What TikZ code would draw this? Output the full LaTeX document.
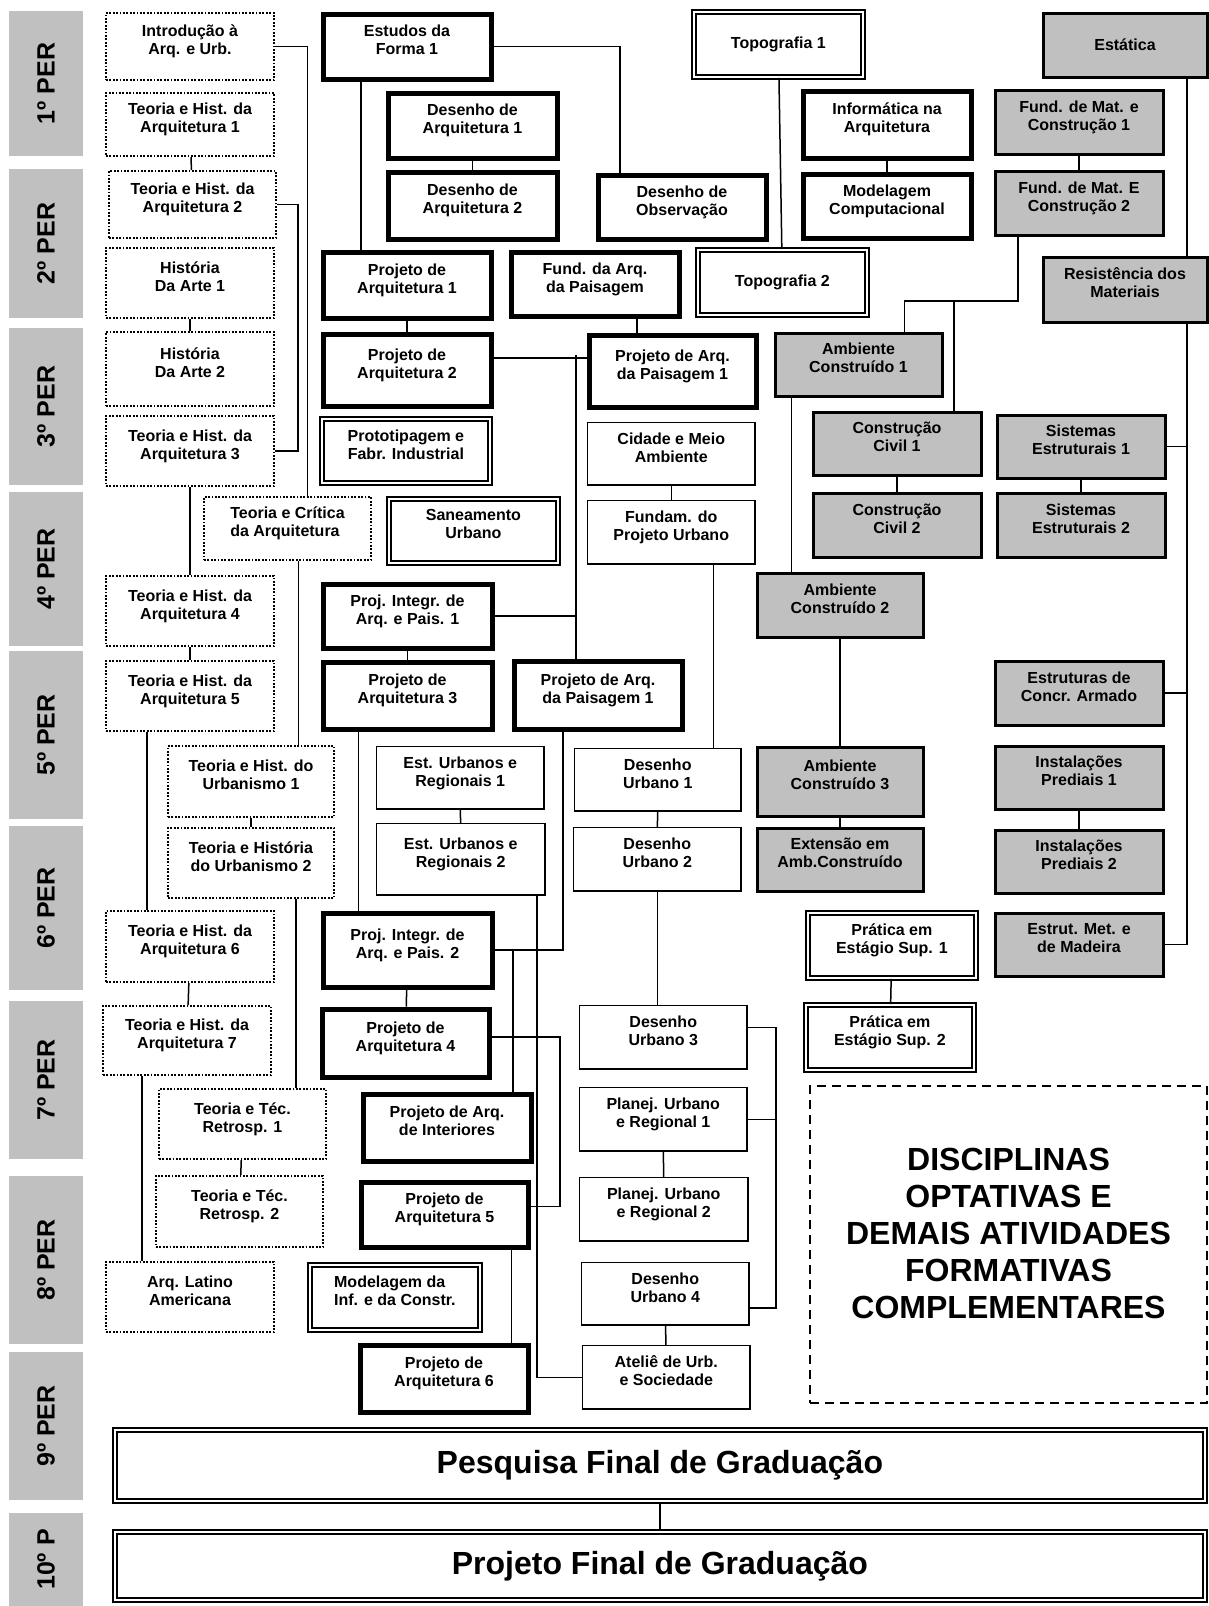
\documentclass[tikz,border=0pt]{standalone}
\usepackage{fontspec}
\setmainfont{Liberation Sans}
\definecolor{pergray}{RGB}{192,192,192}

\begin{document}
\begin{tikzpicture}[x=1pt, y=-1pt,
		box/.style={rectangle, anchor=north west, align=center, inner sep=2pt, text depth=13pt, font=\bfseries\fontsize{16}{18}\selectfont},
		oneline/.style={text depth=},
		dotbox/.style={box, draw, line width=2pt, dash pattern=on 1.8pt off 1.6pt},
		thickbox/.style={box, draw, line width=5pt},
		thinbox/.style={box, draw, line width=1.5pt},
		graybox/.style={box, draw, fill=pergray, line width=3pt},
		dblbox/.style={box, draw, double, line width=1.8pt, double distance=2.4pt},
		optbox/.style={box, draw, line width=2pt, dash pattern=on 9pt off 6pt, text depth=22pt, font=\bfseries\fontsize{32}{37}\selectfont},
		finalbox/.style={dblbox, oneline, font=\bfseries\fontsize{32}{36}\selectfont},
		period/.style={rectangle, fill=pergray, rotate=90, minimum height=74pt, font=\bfseries\fontsize{25}{30}\selectfont},
		link/.style={line width=1.5pt}]
		\useasboundingbox (0,0) rectangle (1208,1606);
		% periodos
		\node[period, minimum width=145pt] (per1) at (46, 83.5) {1º PER};
		\node[period, minimum width=149pt] (per2) at (46, 243.5) {2º PER};
		\node[period, minimum width=157pt] (per3) at (46, 406.5) {3º PER};
		\node[period, minimum width=154pt] (per4) at (46, 569) {4º PER};
		\node[period, minimum width=168pt] (per5) at (46, 735) {5º PER};
		\node[period, minimum width=164pt] (per6) at (46, 908) {6º PER};
		\node[period, minimum width=158pt] (per7) at (46, 1080) {7º PER};
		\node[period, minimum width=168pt] (per8) at (46, 1260) {8º PER};
		\node[period, minimum width=148pt] (per9) at (46, 1426) {9º PER};
		\node[period, minimum width=93pt] (per10) at (46, 1559.5) {10º P};
		% teoria e historia
		\node[dotbox, minimum width=168pt, minimum height=67pt] (p1_intro) at (105, 12) {Introdução à\\Arq. e Urb.};
		\node[dotbox, minimum width=168pt, minimum height=63pt] (p1_th1) at (105, 92) {Teoria e Hist. da\\Arquitetura 1};
		\node[dotbox, minimum width=167pt, minimum height=67pt] (p2_th2) at (108, 170) {Teoria e Hist. da\\Arquitetura 2};
		\node[dotbox, minimum width=168pt, minimum height=70pt] (p2_ha1) at (105, 247) {História\\Da Arte 1};
		\node[dotbox, minimum width=168pt, minimum height=74pt] (p3_ha2) at (105, 331) {História\\Da Arte 2};
		\node[dotbox, minimum width=168pt, minimum height=70pt] (p3_th3) at (105, 415) {Teoria e Hist. da\\Arquitetura 3};
		\node[dotbox, align=left, minimum width=167pt, minimum height=63pt] (p4_tc) at (203, 496) {Teoria e Crítica\\da Arquitetura};
		\node[dotbox, minimum width=168pt, minimum height=70pt] (p4_th4) at (105, 575) {Teoria e Hist. da\\Arquitetura 4};
		\node[dotbox, minimum width=168pt, minimum height=70pt] (p5_th5) at (105, 660) {Teoria e Hist. da\\Arquitetura 5};
		\node[dotbox, minimum width=166pt, minimum height=71pt] (p5_thu1) at (167, 745) {Teoria e Hist. do\\Urbanismo 1};
		\node[dotbox, minimum width=166pt, minimum height=70pt] (p6_thu2) at (167, 827) {Teoria e História\\do Urbanismo 2};
		\node[dotbox, minimum width=168pt, minimum height=71pt] (p6_th6) at (105, 910) {Teoria e Hist. da\\Arquitetura 6};
		\node[dotbox, minimum width=168pt, minimum height=69pt] (p7_th7) at (102, 1005) {Teoria e Hist. da\\Arquitetura 7};
		\node[dotbox, minimum width=167pt, minimum height=70pt] (p7_ttr1) at (158, 1088) {Teoria e Téc.\\Retrosp. 1};
		\node[dotbox, minimum width=167pt, minimum height=71pt] (p8_ttr2) at (155, 1175) {Teoria e Téc.\\Retrosp. 2};
		\node[dotbox, minimum width=168pt, minimum height=70pt] (p8_alat) at (105, 1261) {Arq. Latino\\Americana};
		% projeto
		\node[thickbox, minimum width=168pt, minimum height=65pt] (p1_ef1) at (320.5, 11.5) {Estudos da\\Forma 1};
		\node[thickbox, minimum width=169pt, minimum height=65pt] (p1_da1) at (385.5, 90.5) {Desenho de\\Arquitetura 1};
		\node[thickbox, minimum width=169pt, minimum height=67pt] (p2_da2) at (385.5, 169.5) {Desenho de\\Arquitetura 2};
		\node[thickbox, minimum width=168pt, minimum height=64pt] (p2_dob) at (595.5, 172.5) {Desenho de\\Observação};
		\node[thickbox, minimum width=168pt, minimum height=66pt] (p2_pa1) at (320.5, 249.5) {Projeto de\\Arquitetura 1};
		\node[thickbox, minimum width=168pt, minimum height=64pt] (p2_fap) at (508.5, 249.5) {Fund. da Arq.\\da Paisagem};
		\node[thickbox, minimum width=168pt, minimum height=72pt] (p3_pa2) at (320.5, 331.5) {Projeto de\\Arquitetura 2};
		\node[thickbox, minimum width=167pt, minimum height=72pt] (p3_pap1) at (586.5, 332.5) {Projeto de Arq.\\da Paisagem 1};
		\node[thickbox, minimum width=168pt, minimum height=67pt] (p1_inf) at (800.5, 88.5) {Informática na\\Arquitetura};
		\node[thickbox, minimum width=168pt, minimum height=64pt] (p2_mod) at (800.5, 171.5) {Modelagem\\Computacional};
		\node[thickbox, minimum width=169pt, minimum height=64pt] (p4_pi1) at (320.5, 581.5) {Proj. Integr. de\\Arq. e Pais. 1};
		\node[thickbox, minimum width=169pt, minimum height=67pt] (p5_pa3) at (320.5, 659.5) {Projeto de\\Arquitetura 3};
		\node[thickbox, minimum width=168pt, minimum height=68pt] (p5_pap1) at (511.5, 658.5) {Projeto de Arq.\\da Paisagem 1};
		\node[thickbox, minimum width=169pt, minimum height=74pt] (p6_pi2) at (320.5, 910.5) {Proj. Integr. de\\Arq. e Pais. 2};
		\node[thickbox, minimum width=167pt, minimum height=68pt] (p7_pa4) at (319.5, 1006.5) {Projeto de\\Arquitetura 4};
		\node[thickbox, minimum width=168pt, minimum height=67pt] (p7_pai) at (360.5, 1091.5) {Projeto de Arq.\\de Interiores};
		\node[thickbox, minimum width=167pt, minimum height=65pt] (p8_pa5) at (358.5, 1179.5) {Projeto de\\Arquitetura 5};
		\node[thickbox, minimum width=168pt, minimum height=67pt] (p9_pa6) at (357.5, 1342.5) {Projeto de\\Arquitetura 6};
		% urbanismo
		\node[thinbox, minimum width=167.5pt, minimum height=62.5pt] (p3_cma) at (586.75, 421.75) {Cidade e Meio\\Ambiente};
		\node[thinbox, minimum width=167.5pt, minimum height=63.5pt] (p4_fpu) at (586.75, 499.75) {Fundam. do\\Projeto Urbano};
		\node[thinbox, minimum width=167.5pt, minimum height=62.5pt] (p5_eur1) at (375.75, 745.75) {Est. Urbanos e\\Regionais 1};
		\node[thinbox, minimum width=168.5pt, minimum height=71.5pt] (p6_eur2) at (375.75, 822.75) {Est. Urbanos e\\Regionais 2};
		\node[thinbox, minimum width=166.5pt, minimum height=62.5pt] (p5_du1) at (573.75, 747.75) {Desenho\\Urbano 1};
		\node[thinbox, minimum width=167.5pt, minimum height=63.5pt] (p6_du2) at (572.75, 826.75) {Desenho\\Urbano 2};
		\node[thinbox, minimum width=167.5pt, minimum height=63.5pt] (p7_du3) at (578.75, 1004.75) {Desenho\\Urbano 3};
		\node[thinbox, minimum width=167.5pt, minimum height=63.5pt] (p7_pur1) at (578.75, 1086.75) {Planej. Urbano\\e Regional 1};
		\node[thinbox, minimum width=168.5pt, minimum height=63.5pt] (p8_pur2) at (578.75, 1176.75) {Planej. Urbano\\e Regional 2};
		\node[thinbox, minimum width=167.5pt, minimum height=62.5pt] (p8_du4) at (580.75, 1261.75) {Desenho\\Urbano 4};
		\node[thinbox, minimum width=167.5pt, minimum height=63.5pt] (p9_aus) at (581.75, 1344.75) {Ateliê de Urb.\\e Sociedade};
		% tecnologia
		\node[graybox, oneline, minimum width=164pt, minimum height=64pt] (p1_est) at (1041.5, 11.5) {Estática};
		\node[graybox, minimum width=168pt, minimum height=64pt] (p1_fmc1) at (993.5, 88.5) {Fund. de Mat. e\\Construção 1};
		\node[graybox, minimum width=168pt, minimum height=64pt] (p2_fmc2) at (993.5, 169.5) {Fund. de Mat. E\\Construção 2};
		\node[graybox, minimum width=164pt, minimum height=65pt] (p2_rm) at (1041.5, 255.5) {Resistência dos\\Materiais};
		\node[graybox, minimum width=167pt, minimum height=63pt] (p3_ac1) at (773.5, 331.5) {Ambiente\\Construído 1};
		\node[graybox, minimum width=168pt, minimum height=63pt] (p3_cc1) at (811.5, 410.5) {Construção\\Civil 1};
		\node[graybox, minimum width=168pt, minimum height=64pt] (p4_cc2) at (811.5, 491.5) {Construção\\Civil 2};
		\node[graybox, minimum width=168pt, minimum height=63pt] (p3_se1) at (995.5, 413.5) {Sistemas\\Estruturais 1};
		\node[graybox, minimum width=168pt, minimum height=64pt] (p4_se2) at (995.5, 491.5) {Sistemas\\Estruturais 2};
		\node[graybox, minimum width=166pt, minimum height=64pt] (p4_ac2) at (755.5, 571.5) {Ambiente\\Construído 2};
		\node[graybox, minimum width=168pt, minimum height=64pt] (p5_eca) at (993.5, 659.5) {Estruturas de\\Concr. Armado};
		\node[graybox, minimum width=166pt, minimum height=69pt] (p5_ac3) at (755.5, 745.5) {Ambiente\\Construído 3};
		\node[graybox, minimum width=168pt, minimum height=63pt] (p5_ip1) at (993.5, 744.5) {Instalações\\Prediais 1};
		\node[graybox, minimum width=166pt, minimum height=63pt] (p6_ext) at (755.5, 826.5) {Extensão em\\Amb.Construído};
		\node[graybox, minimum width=168pt, minimum height=63pt] (p6_ip2) at (993.5, 828.5) {Instalações\\Prediais 2};
		\node[graybox, minimum width=168pt, minimum height=63pt] (p6_emm) at (993.5, 911.5) {Estrut. Met. e\\de Madeira};
		% linha dupla
		\node[dblbox, oneline, minimum width=169pt, minimum height=65pt] (p1_top1) at (693, 11) {Topografia 1};
		\node[dblbox, oneline, minimum width=169pt, minimum height=65pt] (p2_top2) at (697, 249) {Topografia 2};
		\node[dblbox, minimum width=168pt, minimum height=64pt] (p3_prot) at (321, 418) {Prototipagem e\\Fabr. Industrial};
		\node[dblbox, minimum width=169pt, minimum height=64pt] (p4_san) at (388, 498) {Saneamento\\Urbano};
		\node[dblbox, minimum width=168pt, minimum height=65pt] (p6_pes1) at (807, 912) {Prática em\\Estágio Sup. 1};
		\node[dblbox, minimum width=168pt, minimum height=65pt] (p7_pes2) at (805, 1004) {Prática em\\Estágio Sup. 2};
		\node[dblbox, align=left, minimum width=170pt, minimum height=65pt] (p8_mic) at (309, 1264) {Modelagem da\\Inf. e da Constr.};
		\node[optbox, minimum width=397pt, minimum height=317pt] (opt) at (809, 1085) {DISCIPLINAS\\OPTATIVAS E\\DEMAIS ATIVIDADES\\FORMATIVAS\\COMPLEMENTARES};
		\node[finalbox, minimum width=1090pt, minimum height=71pt] (p9_pfg) at (114, 1429) {Pesquisa Final de Graduação};
		\node[finalbox, minimum width=1090pt, minimum height=68pt] (p10_pjf) at (114, 1531) {Projeto Final de Graduação};
		% ligacoes, coluna esquerda
		\draw[link] (p1_intro.east) -| ([xshift=20pt]p4_tc.north);
		\draw[link] (p1_th1) -- (p2_th2);
		\draw[link] (p2_th2.east) -- ++(21,0) |- (p3_th3.east);
		\draw[link] (p2_ha1) -- (p3_ha2);
		\draw[link] (p3_th3) -- (p4_th4);
		\draw[link] (p4_th4) -- (p5_th5);
		\draw[link] ([xshift=11pt]p4_tc.south) -- ([xshift=11pt]p4_tc.south |- p5_thu1.north);
		\draw[link] ([xshift=-43pt]p5_th5.south) -- ([xshift=-43pt]p5_th5.south |- p6_th6.north);
		\draw[link] (p5_thu1) -- (p6_thu2);
		\draw[link] ([xshift=45pt]p6_thu2.south) -- ([xshift=45pt]p6_thu2.south |- p7_ttr1.north);
		\draw[link] (p6_th6) -- (p7_th7);
		\draw[link] ([xshift=-45pt]p7_th7.south) -- ([xshift=-45pt]p7_th7.south |- p8_alat.north);
		\draw[link] (p7_ttr1) -- (p8_ttr2);
		% ligacoes, topo
		\draw[link] (p1_ef1.east) -| ([xshift=-62pt]p2_dob.north);
		\draw[link] ([xshift=-46pt]p1_ef1.south) -- ([xshift=-46pt]p1_ef1.south |- p2_pa1.north);
		\draw[link] (p1_da1) -- (p2_da2);
		\draw[link] (p1_top1) -- (p2_top2);
		\draw[link] (p1_inf) -- (p2_mod);
		\draw[link] (p1_fmc1) -- (p2_fmc2);
		\draw[link] ([xshift=62pt]p1_est.south) -- ([xshift=62pt]p1_est.south |- p2_rm.north);
		\coordinate (fmc_bend) at (1018, 301);
		\draw[link] (p2_fmc2.south -| fmc_bend) -- (fmc_bend) -| ([xshift=46pt]p3_ac1.north);
		\draw[link] ([xshift=57pt]p3_cc1.north |- fmc_bend) -- ([xshift=57pt]p3_cc1.north);
		\coordinate (rm_bus) at ([xshift=62pt]p2_rm.south);
		\draw[link] (rm_bus) |- (p6_emm.east);
		\draw[link] (p3_se1.east) -- (p3_se1.east -| rm_bus);
		\draw[link] (p5_eca.east) -- (p5_eca.east -| rm_bus);
		% ligacoes, projeto
		\draw[link] ([xshift=42pt]p2_fap.south) -- ([xshift=42pt]p2_fap.south |- p3_pap1.north);
		\draw[link] (p2_pa1) -- (p3_pa2);
		\draw[link] ([yshift=12pt]p3_pa2.east) -- ([yshift=12pt]p3_pa2.east -| p3_pap1.west);
		\coordinate (pa_bus) at (576, 355);
		\draw[link] (pa_bus) -- (pa_bus |- p5_pap1.north);
		\draw[link] (p4_pi1.east) -- (p4_pi1.east -| pa_bus);
		\draw[link] (p4_pi1) -- (p5_pa3);
		\draw[link] ([xshift=-35pt]p5_pap1.south) |- (p6_pi2.east);
		\draw[link] ([xshift=-49pt]p5_pa3.south) -- ([xshift=-49pt]p5_pa3.south |- p6_pi2.north);
		\coordinate (pi2_tap) at ([xshift=66pt]p7_pai.north |- p6_pi2.east);
		\draw[link] (pi2_tap) -- ([xshift=66pt]p7_pai.north);
		\draw[link] (p6_pi2) -- (p7_pa4);
		\coordinate (pa45_bus) at (560, 1120);
		\draw[link] ([yshift=6pt]p7_pa4.east) -| (pa45_bus) |- ([yshift=8pt]p8_pa5.east);
		\draw[link] ([xshift=67pt]p8_pa5.south) -- ([xshift=67pt]p8_pa5.south |- p9_pa6.north);
		% ligacoes, urbanismo
		\draw[link] (p3_cma) -- (p4_fpu);
		\draw[link] ([xshift=42pt]p4_fpu.south) -- ([xshift=42pt]p4_fpu.south |- p5_du1.north);
		\draw[link] (p5_du1) -- (p6_du2);
		\draw[link] (p5_eur1) -- (p6_eur2);
		\draw[link] ([xshift=76pt]p6_eur2.south) |- (p9_aus.west);
		\draw[link] (p6_du2.south) -- (p6_du2.south |- p7_du3.north);
		\coordinate (du_bus) at (776, 1150);
		\draw[link] ([yshift=10pt]p7_du3.east) -| (du_bus) |- ([yshift=-14pt]p8_du4.east);
		\draw[link] (p7_pur1.east) -- (p7_pur1.east -| du_bus);
		\draw[link] (p7_pur1) -- (p8_pur2);
		\draw[link] (p8_du4) -- (p9_aus);
		% ligacoes, tecnologia
		\draw[link] (p3_cc1) -- (p4_cc2);
		\draw[link] (p3_se1) -- (p4_se2);
		\draw[link] ([xshift=-67pt]p3_ac1.south) -- ([xshift=-67pt]p3_ac1.south |- p4_ac2.north);
		\draw[link] (p4_ac2) -- (p5_ac3);
		\draw[link] (p5_ac3) -- (p6_ext);
		\draw[link] (p5_ip1) -- (p6_ip2);
		\draw[link] (p6_pes1) -- (p7_pes2);
		\draw[link] (p9_pfg) -- (p10_pjf);
	\end{tikzpicture}
\end{document}
